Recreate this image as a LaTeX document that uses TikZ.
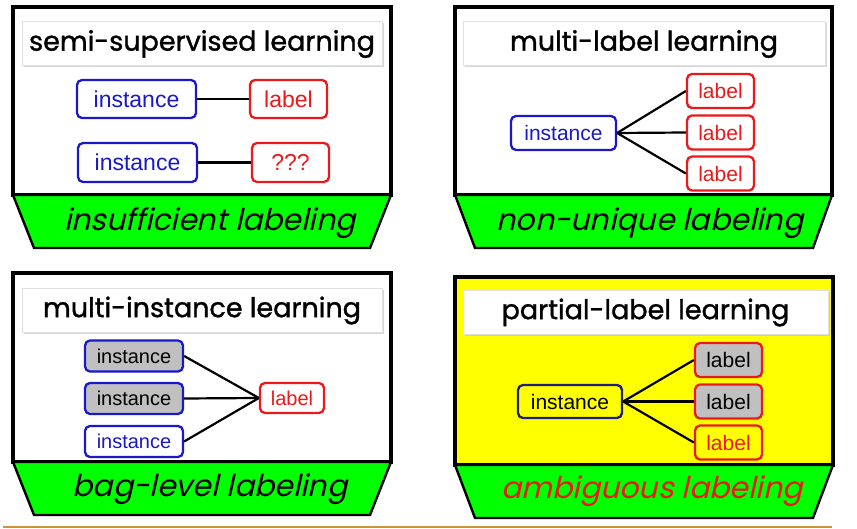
\documentclass[tikz,border=0pt]{standalone}
\usepackage{fontspec}
\setsansfont{Liberation Sans}
\newfontfamily\handfont[FakeBold=1.2]{Poppins}
\newfontfamily\handslant[FakeSlant=0.22]{Poppins}
\usetikzlibrary{shadows}

\definecolor{instblue}{RGB}{25,25,200}
\definecolor{navy}{RGB}{30,30,130}
\definecolor{labred}{RGB}{235,25,25}
\definecolor{bargreen}{RGB}{0,255,0}
\definecolor{panelyellow}{RGB}{255,255,0}
\definecolor{boxgrey}{RGB}{192,192,192}
\definecolor{footgold}{RGB}{200,150,50}

\begin{document}
\begin{tikzpicture}[
  x=1pt, y=-1pt,
  frame/.style={draw=black, line width=3.6pt},
  base/.style={draw=black, line width=2.4pt, fill=bargreen},
  tag/.style={font=\handslant\fontsize{30}{33}\selectfont, inner sep=0pt},
  title/.style={fill=white, draw=black!12, line width=1pt, minimum height=44pt, inner sep=0pt,
                font=\handfont\fontsize{27}{30}\selectfont,
                drop shadow={shadow xshift=1.5pt, shadow yshift=-1.5pt, fill=black!30, opacity=0.5}},
  box/.style={rectangle, rounded corners=5pt, line width=2.3pt, inner sep=0pt,
              font=\sffamily\fontsize{21}{24}\selectfont},
  inst/.style={box, draw=instblue, text=instblue, fill=white},
  lab/.style={box, draw=labred, text=labred, fill=white},
  link/.style={draw=black, line width=2.2pt},
]
\useasboundingbox (0,0) rectangle (857,529);

% ------------------------------------------------ semi-supervised
\draw[frame, fill=white] (13,7) rectangle (391,195);
\draw[base] (13,195) -- (391,195) -- (370,248) -- (34,248) -- cycle;
\node[tag] (tag1) at (210,223) {insufficient labeling};
\node[title, minimum width=360pt] (title1) at (202,44) {semi-supervised learning};
\node[inst, minimum width=119pt, minimum height=38pt, font=\sffamily\fontsize{23}{26}\selectfont] (ssinsta) at (136.5,99) {instance};
\node[lab,  minimum width=77pt,  minimum height=38pt, font=\sffamily\fontsize{23}{26}\selectfont] (sslaba)  at (288.5,99) {label};
\node[inst, minimum width=119pt, minimum height=39pt, font=\sffamily\fontsize{23}{26}\selectfont] (ssinstb) at (137.5,162.5) {instance};
\node[lab,  minimum width=77pt,  minimum height=39pt, font=\sffamily\fontsize{23}{26}\selectfont] (sslabb)  at (290.5,162.5) {???};
\draw[link] (ssinsta) -- (sslaba);
\draw[link] (ssinstb) -- (sslabb);

% ------------------------------------------------ multi-label
\draw[frame, fill=white] (455,7) rectangle (832,195);
\draw[base] (455,195) -- (832,195) -- (813,248) -- (475,248) -- cycle;
\node[tag] (tag2) at (650,223) {non-unique labeling};
\node[title, minimum width=362pt] (title2) at (644,44) {multi-label learning};
\node[inst, minimum width=105pt, minimum height=34pt] (mlinst) at (563.5,133) {instance};
\foreach \k/\yy in {a/91, b/132.5, c/173.5}{
  \node[lab, minimum width=67pt, minimum height=34pt] (mllab\k) at (720.5,\yy) {label};
  \draw[link] (mlinst.east) -- (mllab\k.west);
}

% ------------------------------------------------ multi-instance
\draw[frame, fill=white] (13,273) rectangle (391,462);
\draw[base] (13,462) -- (391,462) -- (370,515) -- (34,515) -- cycle;
\node[tag] (tag3) at (210,489) {bag-level labeling};
\node[title, minimum width=360pt] (title3) at (202,310.5) {multi-instance learning};
\node[lab, minimum width=64pt, minimum height=30pt, font=\sffamily\fontsize{20}{23}\selectfont] (milab) at (292,398) {label};
\foreach \k/\yy/\fc/\tc in {a/356/boxgrey/black, b/398.5/boxgrey/black, c/441.5/white/instblue}{
  \node[inst, fill=\fc, text=\tc, minimum width=98pt, minimum height=31pt, font=\sffamily\fontsize{20}{23}\selectfont] (miinst\k) at (134,\yy) {instance};
  \draw[link] (miinst\k.east) -- (milab.west);
}

% ------------------------------------------------ partial-label
\draw[frame, fill=panelyellow] (455,277) rectangle (833,465);
\draw[base] (455,465) -- (833,465) -- (813,518) -- (475,518) -- cycle;
\node[tag, text=labred] (tag4) at (652,491) {ambiguous labeling};
\node[title, minimum width=365pt] (title4) at (645.5,312.5) {partial-label learning};
\node[inst, draw=navy, text=black, fill=panelyellow, minimum width=104pt, minimum height=33pt] (plinst) at (570,401.5) {instance};
\foreach \k/\yy/\fc/\tc in {a/360/boxgrey/black, b/401.5/boxgrey/black, c/442.5/panelyellow/labred}{
  \node[lab, fill=\fc, text=\tc, minimum width=67pt, minimum height=34pt] (pllab\k) at (728.5,\yy) {label};
  \draw[link] (plinst.east) -- (pllab\k.west);
}

% ------------------------------------------------ footer rule
\coordinate (footl) at (3,527);
\coordinate (footr) at (832,527);
\draw[footgold, line width=1.5pt] (footl) -- (footr);

\end{tikzpicture}
\end{document}
